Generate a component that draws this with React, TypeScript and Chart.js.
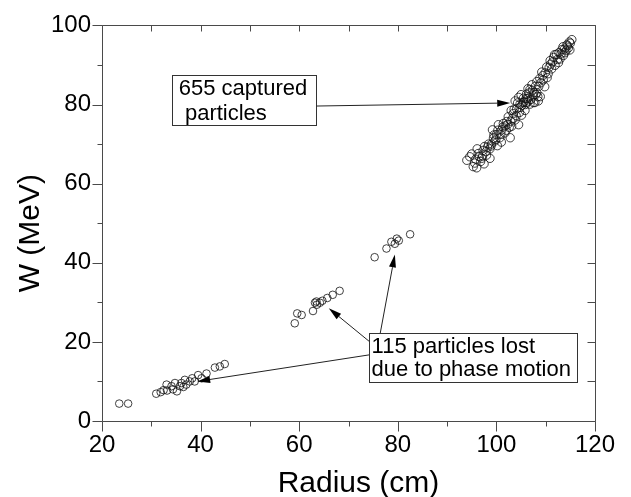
import React, { useEffect, useRef } from "react";
import { Chart, registerables } from "chart.js";
Chart.register(...registerables);

// ---- data ----
const capturedR = [
  94.0, 94.6, 95.3, 95.6, 95.0, 96.0, 96.1, 96.3, 96.8, 97.0, 97.3, 97.5, 97.6, 98.0, 98.4, 98.7, 98.7, 99.0,
  99.2, 99.4, 99.7, 100.0, 100.2, 100.4, 100.7, 101.0, 101.1, 101.4, 101.7, 102.1, 102.4, 102.6, 102.8, 103.0,
  103.1, 103.4, 103.8, 103.8, 104.1, 104.5, 104.5, 104.8, 104.8, 105.0, 105.1, 105.4, 105.8, 106.1, 106.1,
  106.4, 106.5, 106.8, 106.8, 107.2, 107.5, 107.5, 107.8, 108.2, 108.2, 108.5, 108.9, 108.8, 109.2, 109.5,
  109.8, 110.2, 110.5, 110.9, 111.2, 111.6, 111.9, 112.2, 112.6, 112.9, 113.3, 113.6, 113.9, 114.3, 114.6,
  114.9, 115.0, 115.3,
  95.8, 96.5, 97.2, 97.9, 98.2, 98.9, 99.5, 99.9, 100.3, 100.9, 101.3, 101.8, 102.0, 102.3, 102.9, 103.3,
  103.6, 104.0, 104.3, 104.7, 105.2, 105.5, 105.9, 106.3, 106.6, 107.0, 107.3, 107.9, 108.0, 108.6, 109.0,
  109.4, 109.9, 110.3, 110.7, 111.0, 111.4, 111.8, 112.4, 112.7, 113.1, 113.5, 113.8, 114.1, 114.4, 114.8,
  108.4, 107.6, 106.0, 105.6,
];
const capturedW = [
  65.9, 66.8, 64.3, 65.2, 67.5, 64.0, 68.8, 67.6, 65.6, 66.4, 68.4, 65.0, 69.4, 67.2, 70.0, 68.8, 66.4, 70.0,
  73.6, 71.5, 70.8, 72.4, 69.6, 74.9, 71.6, 70.5, 73.6, 75.2, 72.8, 75.7, 76.9, 74.2, 71.6, 78.5,
  74.5, 77.7, 76.1, 80.9, 78.9, 74.9, 81.8, 80.1, 79.3, 82.5, 77.3, 80.5, 78.5, 80.5, 82.6,
  84.0, 80.9, 80.1, 83.8, 85.0, 80.5, 82.2, 80.5, 83.0, 85.8, 80.9, 82.0, 86.6, 88.2, 86.2,
  84.5, 89.5, 87.8, 91.1, 89.0, 91.9, 89.9, 92.7, 90.6, 91.5, 93.9, 92.4, 93.1, 95.1, 94.3,
  93.8, 95.5, 96.4,
  66.2, 66.9, 67.0, 68.1, 69.2, 69.5, 72.3, 71.2, 73.5, 72.5, 74.3, 74.6, 73.5, 75.0, 75.8, 76.5,
  78.8, 77.2, 80.4, 78.0, 79.8, 81.6, 80.0, 81.5, 82.9, 81.3, 83.6, 84.6, 82.5, 84.6, 85.5,
  87.3, 88.0, 86.8, 89.4, 90.2, 90.8, 92.6, 91.4, 93.1, 92.8, 94.6, 94.0, 93.6, 94.8, 95.8,
  82.0, 83.0, 81.5, 80.7,
];
const lostR = [
  23.5, 25.3, 31.0, 31.9, 32.5, 33.1, 33.2, 34.1, 34.4, 34.8, 35.2, 35.8, 36.1, 36.5, 36.8, 37.1, 37.8, 38.3,
  38.8, 39.5, 40.2, 41.2, 42.9, 43.9, 44.9, 59.1, 59.6, 60.5, 62.8, 63.2, 63.5, 63.6, 64.2, 64.7, 65.7, 66.8,
  68.2, 75.3, 77.7, 78.7, 79.4, 79.8, 80.2, 82.5,
];
const lostW = [
  4.4, 4.4, 6.9, 7.3, 7.8, 9.2, 7.7, 8.8, 8.0, 9.6, 7.5, 8.8, 9.6, 8.6, 10.4, 9.2, 10.0, 10.8,
  10.0, 11.6, 10.8, 12.0, 13.5, 13.8, 14.4, 24.7, 27.2, 26.8, 27.8, 29.9, 30.2, 29.4, 29.9, 30.4, 31.1, 31.9,
  32.9, 41.4, 43.6, 45.3, 44.8, 46.1, 45.6, 47.2,
];
const xTickValues = [20, 40, 60, 80, 100, 120];
const yTickValues = [0, 20, 40, 60, 80, 100];
const xTitle = "Radius (cm)";
const yTitle = "W (MeV)";
const capturedNote = ["655 captured", " particles"];
const lostNote = ["115 particles lost", "due to phase motion"];
// arrow targets (data units)
const capturedArrowTip = [102.8, 80.4];
const lostArrowTips = [
  [79.4, 42.1],
  [66.0, 28.5],
  [39.3, 10.0],
];

const FONT = '"Liberation Sans", Arial, Helvetica, sans-serif';

const decor = {
  id: "decor",
  afterDraw(chart: any) {
    const ctx = chart.ctx as CanvasRenderingContext2D;
    const xs = chart.scales.x;
    const ys = chart.scales.y;
    const { left, right, top, bottom } = chart.chartArea;
    ctx.save();
    // frame
    ctx.strokeStyle = "#4a4a4a";
    ctx.lineWidth = 1;
    const L = Math.round(left) + 0.5;
    const R = Math.round(right) + 0.5;
    const T = Math.round(top) + 0.5;
    const B = Math.round(bottom) + 0.5;
    ctx.beginPath();
    ctx.rect(L, T, R - L, B - T);
    ctx.stroke();
    // ticks
    ctx.beginPath();
    for (let v = xs.min; v <= xs.max + 0.001; v += 10) {
      const p = Math.round(xs.getPixelForValue(v)) + 0.5;
      const major = Math.round(v) % 20 === 0;
      ctx.moveTo(p, B);
      ctx.lineTo(p, B + (major ? 10 : 5));
      ctx.moveTo(p, T);
      ctx.lineTo(p, T + 6);
    }
    for (let v = ys.min; v <= ys.max + 0.001; v += 10) {
      const p = Math.round(ys.getPixelForValue(v)) + 0.5;
      const major = Math.round(v) % 20 === 0;
      ctx.moveTo(L, p);
      ctx.lineTo(L - (major ? 10 : 5), p);
      ctx.moveTo(R, p);
      ctx.lineTo(R - 8, p);
    }
    ctx.stroke();

    // axis titles
    ctx.fillStyle = "#000";
    ctx.font = `30px ${FONT}`;
    ctx.textAlign = "center";
    ctx.textBaseline = "alphabetic";
    ctx.fillText(xTitle, (left + right) / 2 + 10, 492);
    ctx.save();
    ctx.translate(39, (top + bottom) / 2 + 10);
    ctx.rotate(-Math.PI / 2);
    ctx.fillText(yTitle, 0, 0);
    ctx.restore();

    // annotations
    const arrow = (x1: number, y1: number, x2: number, y2: number) => {
      const ang = Math.atan2(y2 - y1, x2 - x1);
      const len = 13;
      const hw = 3.5;
      const bx = x2 - len * Math.cos(ang);
      const by = y2 - len * Math.sin(ang);
      ctx.strokeStyle = "#222";
      ctx.lineWidth = 1;
      ctx.beginPath();
      ctx.moveTo(x1, y1);
      ctx.lineTo(bx, by);
      ctx.stroke();
      ctx.fillStyle = "#000";
      ctx.beginPath();
      ctx.moveTo(x2, y2);
      ctx.lineTo(bx + hw * Math.sin(ang), by - hw * Math.cos(ang));
      ctx.lineTo(bx - hw * Math.sin(ang), by + hw * Math.cos(ang));
      ctx.closePath();
      ctx.fill();
    };
    const box = (x: number, y: number, w: number, h: number, lines: string[], tx: number, b1: number, b2: number) => {
      ctx.fillStyle = "#fff";
      ctx.fillRect(x, y, w, h);
      ctx.strokeStyle = "#333";
      ctx.lineWidth = 1;
      ctx.strokeRect(Math.round(x) + 0.5, Math.round(y) + 0.5, Math.round(w), Math.round(h));
      ctx.fillStyle = "#000";
      ctx.font = `22px ${FONT}`;
      ctx.textAlign = "left";
      ctx.textBaseline = "alphabetic";
      ctx.fillText(lines[0], x + tx, y + b1);
      ctx.fillText(lines[1], x + tx, y + b2);
    };

    // box 1 (captured)
    const b1x = xs.getPixelForValue(34.3);
    const b1y = ys.getPixelForValue(87.4);
    const b1w = 144;
    const b1h = 50;
    box(b1x, b1y, b1w, b1h, capturedNote, 6.3, 20, 45);
    arrow(b1x + b1w, b1y + 30.8, xs.getPixelForValue(capturedArrowTip[0]), ys.getPixelForValue(capturedArrowTip[1]));

    // box 2 (lost)
    const b2x = xs.getPixelForValue(74.2);
    const b2y = ys.getPixelForValue(22.15);
    const b2w = 208;
    const b2h = 49;
    const starts = [
      [b2x + 11, b2y],
      [b2x, b2y + 8],
      [b2x, b2y + 21.5],
    ];
    lostArrowTips.forEach((t, i) => {
      arrow(starts[i][0], starts[i][1], xs.getPixelForValue(t[0]), ys.getPixelForValue(t[1]));
    });
    box(b2x, b2y, b2w, b2h, lostNote, 2.4, 20, 43);
    ctx.restore();
  },
};

export default function App() {
  const ref = useRef<HTMLCanvasElement | null>(null);
  useEffect(() => {
    if (!ref.current) return;
    const pointStyle = {
      pointRadius: 4.2,
      pointBorderWidth: 0.8,
      pointBorderColor: "#111",
      pointBackgroundColor: "rgba(255,255,255,0)",
      showLine: false,
    };
    const chart = new Chart(ref.current, {
      type: "scatter",
      data: {
        datasets: [
          { label: "captured", data: capturedR.map((r, i) => ({ x: r, y: capturedW[i] })), ...pointStyle },
          { label: "lost", data: lostR.map((r, i) => ({ x: r, y: lostW[i] })), ...pointStyle, pointRadius: 3.8 },
        ],
      },
      options: {
        responsive: false,
        animation: false,
        devicePixelRatio: 1,
        layout: { padding: { left: 0, top: 10, right: 36, bottom: 0 } },
        plugins: { legend: { display: false }, tooltip: { enabled: false } },
        scales: {
          x: {
            type: "linear",
            min: 20,
            max: 120,
            afterFit: (s: any) => {
              s.height = 76;
            },
            afterBuildTicks: (s: any) => {
              s.ticks = xTickValues.map((v) => ({ value: v }));
            },
            grid: { display: false, drawTicks: false },
            border: { display: false },
            ticks: {
              autoSkip: false,
              maxRotation: 0,
              padding: 10,
              color: "#000",
              font: { family: FONT, size: 24 },
            },
          },
          y: {
            type: "linear",
            min: 0,
            max: 100,
            afterFit: (s: any) => {
              s.width = 102;
            },
            afterBuildTicks: (s: any) => {
              s.ticks = yTickValues.map((v) => ({ value: v }));
            },
            grid: { display: false, drawTicks: false },
            border: { display: false },
            ticks: {
              autoSkip: false,
              padding: 11,
              color: "#000",
              font: { family: FONT, size: 24 },
            },
          },
        },
      },
      plugins: [decor],
    });
    return () => chart.destroy();
  }, []);
  return (
    <div style={{ position: "absolute", left: 0, top: 0, width: 631, height: 497, background: "#fff" }}>
      <canvas ref={ref} width={631} height={497} style={{ width: 631, height: 497 }} />
    </div>
  );
}
